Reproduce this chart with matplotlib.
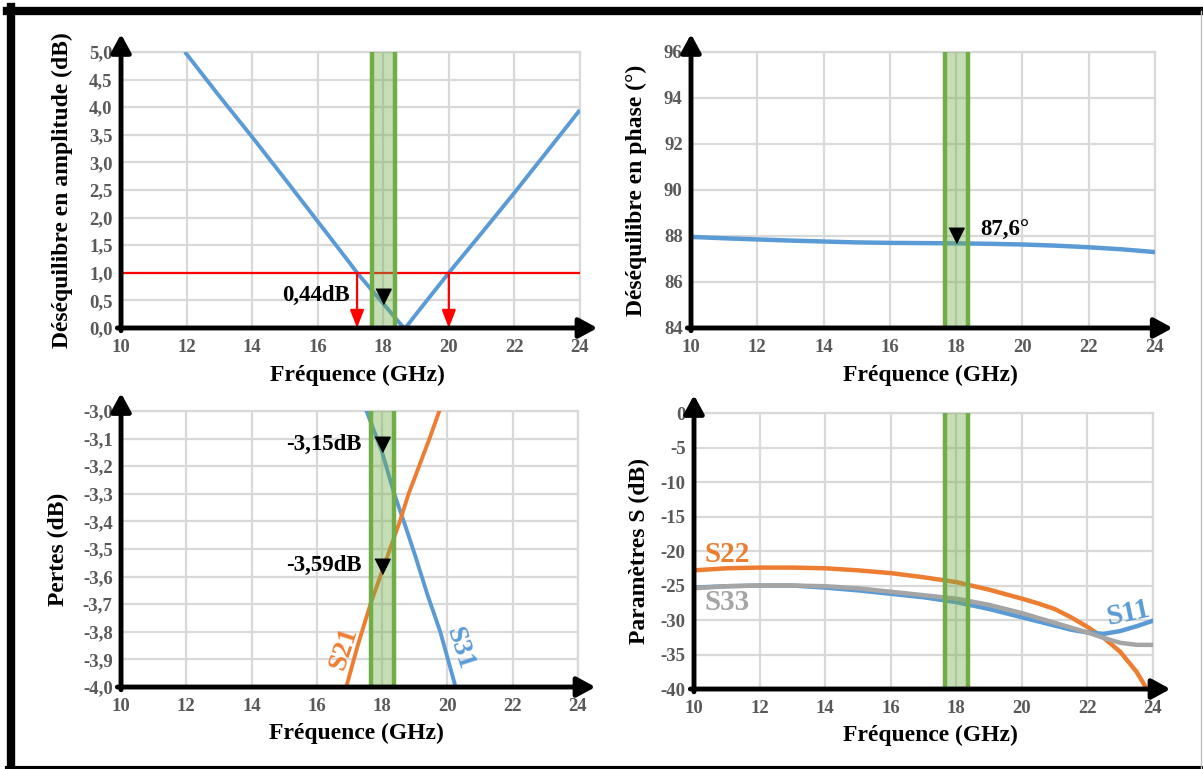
import numpy as np
import matplotlib
matplotlib.use('Agg')
import matplotlib.pyplot as plt
from matplotlib.lines import Line2D

plt.rcParams['font.family'] = ['Liberation Serif', 'DejaVu Serif']
plt.rcParams['font.weight'] = 'bold'

BLEU = '#5B9BD5'
ORANGE = '#ED7D31'
GRIS = '#A5A5A5'
VERT = '#70AD47'

# desequilibre en amplitude
freq_amp = [11.95, 13, 14, 15, 16, 17, 17.2, 18, 18.4, 18.6, 18.7, 19, 20, 21, 22, 23, 24]
amp = [5.0, 4.2, 3.46, 2.7, 1.93, 1.16, 1.0, 0.44, 0.16, 0.02, 0.02, 0.25, 1.0, 1.72, 2.45, 3.2, 3.95]
seuil_amp = 1.0
freq_seuil = [17.2, 20.0]
marq_amp = (18, 0.44, '0,44dB')

# desequilibre en phase
freq_ph = [10, 11, 12, 13, 14, 15, 16, 17, 18, 19, 20, 21, 22, 23, 24]
phase = [87.96, 87.9, 87.85, 87.8, 87.76, 87.72, 87.7, 87.69, 87.68, 87.66, 87.63, 87.58, 87.51, 87.42, 87.3]
marq_ph = (18, 87.68, '87,6°')

# pertes
f_s31 = [17.52, 18.0, 18.37, 18.72, 19.0, 19.4, 19.78, 20.25]
s31 = [-3.0, -3.15, -3.3, -3.42, -3.52, -3.67, -3.8, -4.0]
f_s21 = [16.9, 17.25, 17.64, 18.0, 18.18, 18.54, 18.81, 19.13, 19.45, 19.75]
s21 = [-4.0, -3.85, -3.7, -3.58, -3.52, -3.4, -3.3, -3.2, -3.1, -3.0]
marq_pertes = [(18, -3.15, '-3,15dB'), (18, -3.59, '-3,59dB')]

# parametres S
f_s = [10, 11, 12, 13, 14, 15, 16, 17, 18, 19, 20, 20.5, 21, 21.5, 22, 22.5, 23, 23.5, 24]
s22 = [-22.8, -22.5, -22.4, -22.4, -22.5, -22.8, -23.2, -23.8, -24.5, -25.6, -26.9, -27.6, -28.4, -29.6, -31.0, -32.6, -34.6, -37.5, -41.5]
s33 = [-25.4, -25.1, -25.0, -25.0, -25.1, -25.4, -25.9, -26.4, -26.9, -27.8, -29.0, -29.7, -30.4, -31.1, -31.8, -32.6, -33.3, -33.6, -33.6]
s11 = [-25.3, -25.1, -25.0, -25.0, -25.3, -25.7, -26.2, -26.7, -27.4, -28.4, -29.6, -30.2, -30.8, -31.4, -31.8, -32.0, -31.6, -30.9, -30.1]

bande = (17.65, 18.35)
xticks = [10, 12, 14, 16, 18, 20, 22, 24]

fig = plt.figure(figsize=(12.03, 7.69), dpi=100)

def virgule(v, dec):
    return f"{v:.{dec}f}".replace('.', ',')

def habiller(ax, ylim, yticks, dec, ylabel, ylab_x, xlab_y):
    ax.set_xlim(10, 24)
    ax.set_ylim(*ylim)
    ax.set_xticks(xticks)
    ax.set_xticklabels([str(t) for t in xticks])
    ax.set_yticks(yticks)
    ax.set_yticklabels([virgule(t, dec) for t in yticks])
    ax.grid(True, color='#D9D9D9', lw=1.6, zorder=0)
    ax.set_axisbelow(True)
    ax.tick_params(length=0, labelsize=13.5, labelcolor='#595959')
    ax.tick_params(axis='y', pad=6)
    ax.tick_params(axis='x', pad=8)
    for s in ['top', 'right']:
        ax.spines[s].set_color('#D9D9D9')
        ax.spines[s].set_linewidth(1.6)
    for s in ['left', 'bottom']:
        ax.spines[s].set_visible(False)
    ax.set_xlabel('Fréquence (GHz)', fontsize=17, fontweight='bold')
    ax.xaxis.set_label_coords(0.515, xlab_y)
    ax.set_ylabel(ylabel, fontsize=17, fontweight='bold')
    ax.yaxis.set_label_coords(ylab_x, 0.5)
    # axes flechees
    fl = dict(arrowstyle='-|>,head_length=0.55,head_width=0.3', color='black', lw=3.5,
              mutation_scale=20, shrinkA=0, shrinkB=0)
    ax.annotate('', xy=(0, 1.065), xytext=(0, -0.01), xycoords='axes fraction',
                arrowprops=fl, annotation_clip=False, zorder=10)
    ax.annotate('', xy=(1.038, 0), xytext=(-0.008, 0), xycoords='axes fraction',
                arrowprops=fl, annotation_clip=False, zorder=10)
    # bande verte
    ax.axvspan(bande[0], bande[1], facecolor=VERT, alpha=0.4, lw=0, zorder=5)
    for b in bande:
        ax.axvline(b, color=VERT, lw=3.2, zorder=6)

tri = [(-0.5, 1.0), (0.5, 1.0), (0.0, 0.0)]

def marqueur(ax, x, y):
    ax.plot([x], [y], linestyle='none', marker=tri, markersize=22, color='black', zorder=8)

# --- haut gauche
ax1 = fig.add_axes([0.1006, 0.5735, 0.3815, 0.3589])
ax1.plot(freq_amp, amp, color=BLEU, lw=2.8, zorder=3, solid_capstyle='butt')
ax1.axhline(seuil_amp, color='red', lw=1.6, zorder=4)
for f in freq_seuil:
    ax1.annotate('', xy=(f, 0.0), xytext=(f, seuil_amp),
                 arrowprops=dict(arrowstyle='-|>,head_length=0.9,head_width=0.35', color='red',
                                 lw=1.6, mutation_scale=12, shrinkA=0, shrinkB=0), zorder=4)
habiller(ax1, (0, 5), np.arange(0, 5.01, 0.5), 1, 'Déséquilibre en amplitude (dB)', -0.105, -0.135)
marqueur(ax1, marq_amp[0], marq_amp[1])
ax1.text(16.98, 0.58, marq_amp[2], ha='right', va='center', fontsize=16.5, fontweight='bold', zorder=9)

# --- haut droite
ax2 = fig.add_axes([0.5744, 0.5735, 0.3857, 0.3589])
ax2.plot(freq_ph, phase, color=BLEU, lw=3.2, zorder=3)
habiller(ax2, (84, 96), np.arange(84, 96.1, 2), 0, 'Déséquilibre en phase (°)', -0.095, -0.135)
marqueur(ax2, marq_ph[0], marq_ph[1])
ax2.text(18.72, 87.8, marq_ph[2], ha='left', va='bottom', fontsize=16.5, fontweight='bold', zorder=9)

# --- bas gauche
ax3 = fig.add_axes([0.1006, 0.1066, 0.3799, 0.3589])
ax3.plot(f_s31, s31, color=BLEU, lw=2.8, zorder=3)
ax3.plot(f_s21, s21, color=ORANGE, lw=2.8, zorder=3)
habiller(ax3, (-4, -3), np.round(np.arange(-4, -2.99, 0.1), 1), 1, 'Pertes (dB)', -0.114, -0.13)
for x, y, t in marq_pertes:
    marqueur(ax3, x, y)
    ax3.text(17.38, y + 0.03, t, ha='right', va='center', fontsize=16.5, fontweight='bold', zorder=9)
ax3.text(16.84, -3.86, 'S21', color=ORANGE, fontsize=20, fontweight='bold', rotation=72,
         ha='center', va='center', zorder=9)
ax3.text(20.36, -3.86, 'S31', color=BLEU, fontsize=20, fontweight='bold', rotation=-72,
         ha='center', va='center', zorder=9)

# --- bas droite
ax4 = fig.add_axes([0.5769, 0.1040, 0.3815, 0.3589])
ax4.plot(f_s, s22, color=ORANGE, lw=3.2, zorder=3)
ax4.plot(f_s, s11, color=BLEU, lw=3.2, zorder=3)
ax4.plot(f_s, s33, color=GRIS, lw=3.2, zorder=3)
habiller(ax4, (-40, 0), np.arange(-40, 0.1, 5), 0, 'Paramètres S (dB)', -0.096, -0.13)
ax4.text(11.02, -20.5, 'S22', color=ORANGE, fontsize=21, fontweight='bold', ha='center', va='center', zorder=9)
ax4.text(11.02, -27.5, 'S33', color=GRIS, fontsize=21, fontweight='bold', ha='center', va='center', zorder=9)
ax4.text(23.25, -29.0, 'S11', color=BLEU, fontsize=21, fontweight='bold', rotation=12,
         ha='center', va='center', zorder=9)

# cadre
W, H = 1203, 769
fig.add_artist(Line2D([11 / W, 11 / W], [0, 1 - 7 / H], color='black', lw=6, transform=fig.transFigure))
fig.add_artist(Line2D([7 / W, 1], [1 - 11 / H, 1 - 11 / H], color='black', lw=6, transform=fig.transFigure))
fig.add_artist(Line2D([7 / W, 1], [1.5 / H, 1.5 / H], color='black', lw=3, transform=fig.transFigure))
fig.add_artist(Line2D([1200.5 / W, 1200.5 / W], [0, 1 - 11 / H], color='#BFBFBF', lw=1, transform=fig.transFigure))

fig.savefig('out.png', dpi=100)
